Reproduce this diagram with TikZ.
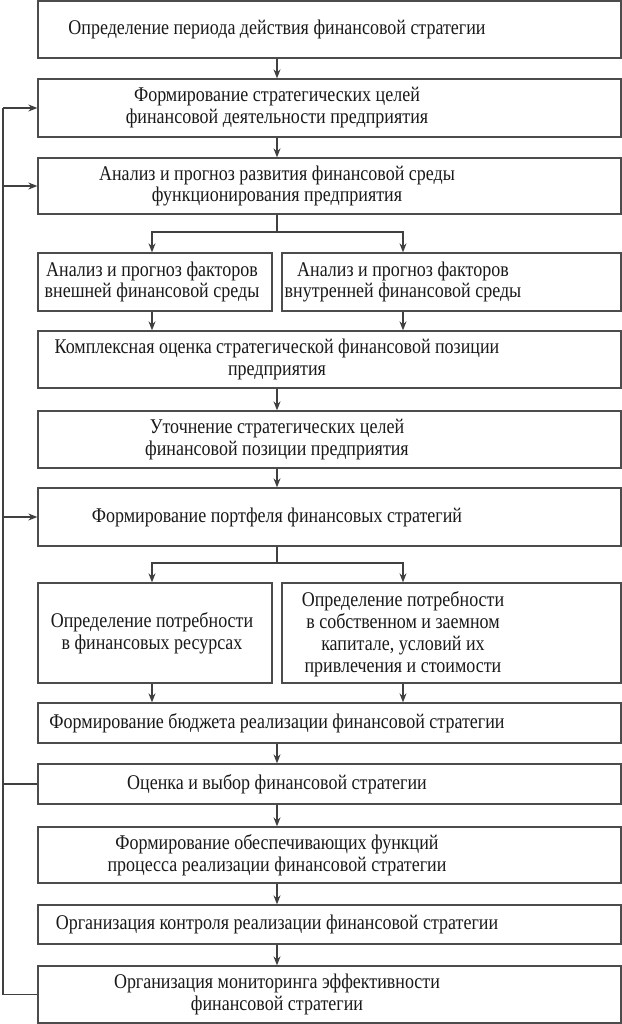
\documentclass[tikz,border=0pt]{standalone}
\usepackage{fontspec}
\setmainfont{Liberation Serif}[FakeStretch=0.86]
\usetikzlibrary{arrows.meta}
\tikzset{
  box/.style={draw=black!70, line width=1.3bp, minimum width=583bp, inner sep=0pt},
  subbox/.style={draw=black!70, line width=1.3bp, inner sep=0pt},
  txt/.style={align=center, inner sep=0pt, text=black!90, font=\rmfamily\fontsize{21}{22}\selectfont},
  arr/.style={draw=black!75, line width=1.3bp, -{Stealth[length=9bp,width=7bp]}},
  ln/.style={draw=black!75, line width=1.3bp}
}
\begin{document}
\begin{tikzpicture}[x=1bp,y=-1bp]
\useasboundingbox (0,0) rectangle (622,1024);
\coordinate (ax) at (277,0);
\coordinate (bl) at (152,0);
\coordinate (br) at (403,0);
\coordinate (fb) at (3,0);
\coordinate (j1) at (277,232);
\coordinate (j2) at (277,563);

\node[box, minimum height=57bp] (b1) at (329.5,29.5) {};
\node[txt] (b1t) at (277,29.5) {Определение периода действия финансовой стратегии};
\node[box, minimum height=58bp] (b2) at (329.5,108) {};
\node[txt] (b2t) at (277,108) {Формирование стратегических целей\\финансовой деятельности предприятия};
\node[box, minimum height=56bp] (b3) at (329.5,186) {};
\node[txt] (b3t) at (277,186) {Анализ и прогноз развития финансовой среды\\функционирования предприятия};

\node[subbox, minimum width=234bp, minimum height=58bp] (s1) at (155,282) {};
\node[txt] (s1t) at (152,282) {Анализ и прогноз факторов\\внешней финансовой среды};
\node[subbox, minimum width=339bp, minimum height=58bp] (s2) at (451.5,282) {};
\node[txt] (s2t) at (403,282) {Анализ и прогноз факторов\\внутренней финансовой среды};

\node[box, minimum height=57bp] (b4) at (329.5,359.5) {};
\node[txt] (b4t) at (277,359.5) {Комплексная оценка стратегической финансовой позиции\\предприятия};
\node[box, minimum height=57bp] (b5) at (329.5,439.5) {};
\node[txt] (b5t) at (277,439.5) {Уточнение стратегических целей\\финансовой позиции предприятия};
\node[box, minimum height=58bp] (b6) at (329.5,517) {};
\node[txt] (b6t) at (277,517) {Формирование портфеля финансовых стратегий};

\node[subbox, minimum width=234bp, minimum height=100bp] (p1) at (155,633) {};
\node[txt] (p1t) at (152,633) {Определение потребности\\в финансовых ресурсах};
\node[subbox, minimum width=339bp, minimum height=100bp] (p2) at (451.5,633) {};
\node[txt] (p2t) at (403,634) {Определение потребности\\в собственном и заемном\\капитале, условий их\\привлечения и стоимости};

\node[box, minimum height=40bp] (b7) at (329.5,723) {};
\node[txt] (b7t) at (277,723) {Формирование бюджета реализации финансовой стратегии};
\node[box, minimum height=40bp] (b8) at (329.5,784) {};
\node[txt] (b8t) at (277,784) {Оценка и выбор финансовой стратегии};
\node[box, minimum height=56bp] (b9) at (329.5,855) {};
\node[txt] (b9t) at (277,855) {Формирование обеспечивающих функций\\процесса реализации финансовой стратегии};
\node[box, minimum height=39bp] (b10) at (329.5,924.5) {};
\node[txt] (b10t) at (277,924.5) {Организация контроля реализации финансовой стратегии};
\node[box, minimum height=57bp] (b11) at (329.5,994.5) {};
\node[txt] (b11t) at (277,994.5) {Организация мониторинга эффективности\\финансовой стратегии};

\draw[arr] (b1.south -| ax) -- (b2.north -| ax);
\draw[arr] (b2.south -| ax) -- (b3.north -| ax);
\draw[ln] (b3.south -| ax) -- (j1);
\draw[arr] (j1) -| (s1.north -| bl);
\draw[arr] (j1) -| (s2.north -| br);
\draw[arr] (s1.south -| bl) -- (b4.north -| bl);
\draw[arr] (s2.south -| br) -- (b4.north -| br);
\draw[arr] (b4.south -| ax) -- (b5.north -| ax);
\draw[arr] (b5.south -| ax) -- (b6.north -| ax);
\draw[ln] (b6.south -| ax) -- (j2);
\draw[arr] (j2) -| (p1.north -| bl);
\draw[arr] (j2) -| (p2.north -| br);
\draw[arr] (p1.south -| bl) -- (b7.north -| bl);
\draw[arr] (p2.south -| br) -- (b7.north -| br);
\draw[arr] (b7.south -| ax) -- (b8.north -| ax);
\draw[arr] (b8.south -| ax) -- (b9.north -| ax);
\draw[arr] (b9.south -| ax) -- (b10.north -| ax);
\draw[arr] (b10.south -| ax) -- (b11.north -| ax);

\draw[ln] (b11.west) -- (b11.west -| fb) -- (b2.west -| fb);
\draw[ln] (b8.west) -- (b8.west -| fb);
\draw[arr] (b2.west -| fb) -- (b2.west);
\draw[arr] (b3.west -| fb) -- (b3.west);
\draw[arr] (b6.west -| fb) -- (b6.west);
\end{tikzpicture}
\end{document}
